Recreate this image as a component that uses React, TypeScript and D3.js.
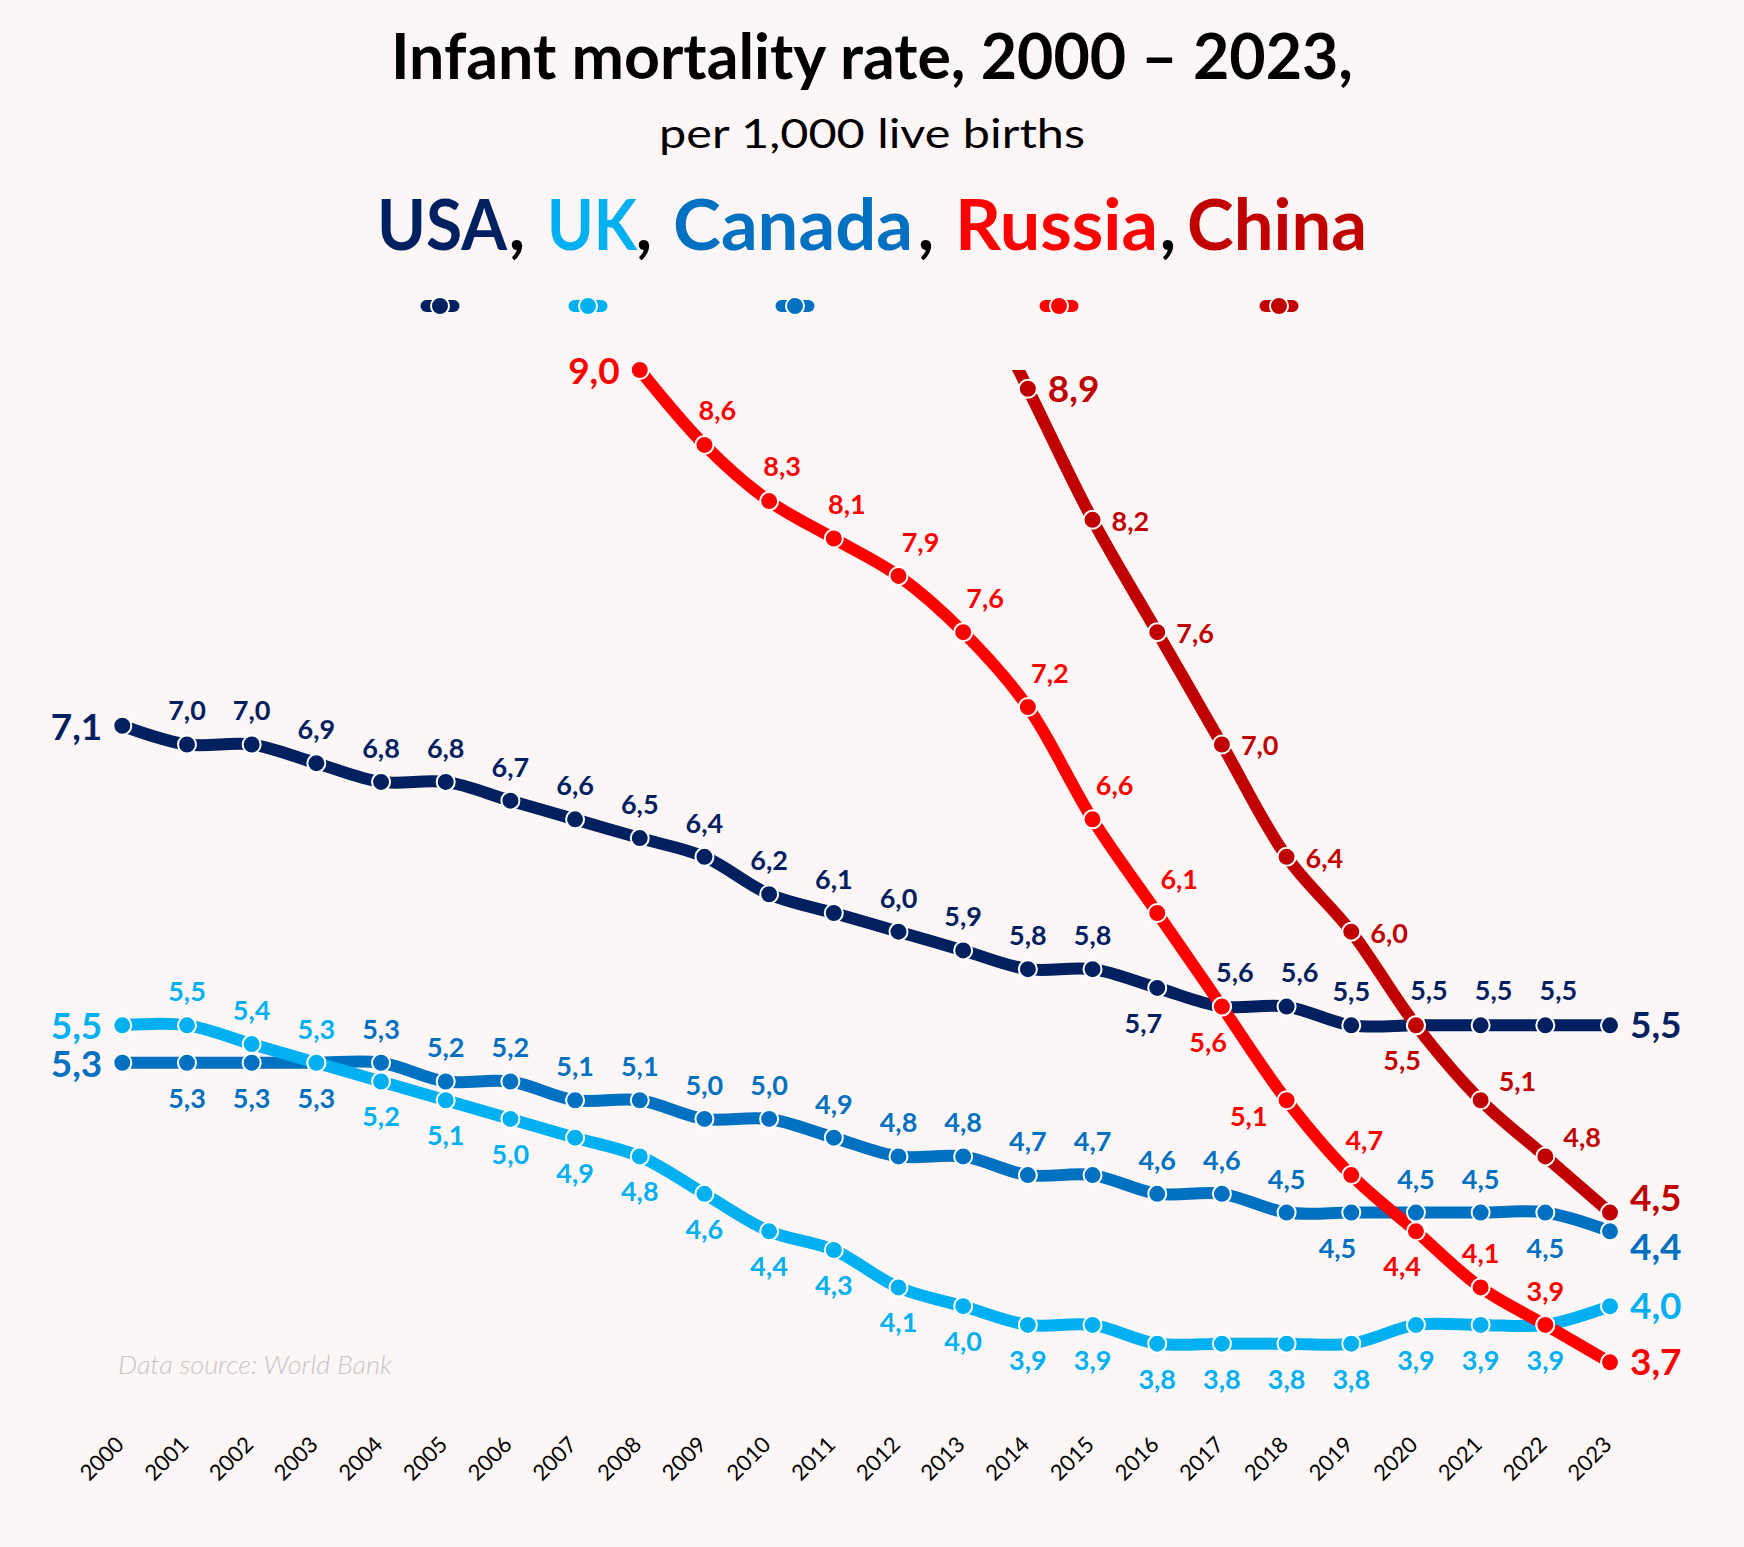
import React, { useEffect, useRef } from 'react';
import * as d3 from 'd3';

// ---- data (World Bank, infant mortality per 1,000 live births) ----
const years = [2000, 2001, 2002, 2003, 2004, 2005, 2006, 2007, 2008, 2009, 2010, 2011,
  2012, 2013, 2014, 2015, 2016, 2017, 2018, 2019, 2020, 2021, 2022, 2023];

const usa = [7.1, 7.0, 7.0, 6.9, 6.8, 6.8, 6.7, 6.6, 6.5, 6.4, 6.2, 6.1,
  6.0, 5.9, 5.8, 5.8, 5.7, 5.6, 5.6, 5.5, 5.5, 5.5, 5.5, 5.5];
const uk = [5.5, 5.5, 5.4, 5.3, 5.2, 5.1, 5.0, 4.9, 4.8, 4.6, 4.4, 4.3,
  4.1, 4.0, 3.9, 3.9, 3.8, 3.8, 3.8, 3.8, 3.9, 3.9, 3.9, 4.0];
const canada = [5.3, 5.3, 5.3, 5.3, 5.3, 5.2, 5.2, 5.1, 5.1, 5.0, 5.0, 4.9,
  4.8, 4.8, 4.7, 4.7, 4.6, 4.6, 4.5, 4.5, 4.5, 4.5, 4.5, 4.4];
const russia = [null, null, null, null, null, null, null, null, 9.0, 8.6, 8.3, 8.1,
  7.9, 7.6, 7.2, 6.6, 6.1, 5.6, 5.1, 4.7, 4.4, 4.1, 3.9, 3.7];
const china = [null, null, null, null, null, null, null, null, null, null, null, null,
  null, 9.6, 8.9, 8.2, 7.6, 7.0, 6.4, 6.0, 5.5, 5.1, 4.8, 4.5];

// label placement per point (null = no label)
const usaPos = ['L', 'T', 'T', 'T', 'T', 'T', 'T', 'T', 'T', 'T', 'T', 'T',
  'T', 'T', 'T', 'T', 'BL', 'TR', 'TR', 'T', 'TR', 'TR', 'TR', 'R'];
const ukPos = ['L', 'T', 'T', 'T', 'B', 'B', 'B', 'B', 'B', 'B', 'B', 'B',
  'B', 'B', 'B', 'B', 'B', 'B', 'B', 'B', 'B', 'B', 'B', 'R'];
const canadaPos = ['L', 'B', 'B', 'B', 'T', 'T', 'T', 'T', 'T', 'T', 'T', 'T',
  'T', 'T', 'T', 'T', 'T', 'T', 'T', 'BL', 'T', 'T', 'B', 'RB'];
const russiaPos = [null, null, null, null, null, null, null, null, 'L', 'TR', 'TR', 'TR',
  'TR2', 'TR2', 'TR2', 'TR2', 'TR2', 'BL', 'l', 'TR', 'BL', 'T', 'T', 'R'];
const chinaPos = [null, null, null, null, null, null, null, null, null, null, null, null,
  null, null, 'R', 'r', 'r', 'r', 'r', 'r', 'BL', 'rU', 'rU', 'RT'];

const countries = ['USA', 'UK', 'Canada', 'Russia', 'China'];
const colors = ['#002060', '#00b0f0', '#0070c0', '#ff0000', '#c00000'];

const series = [
  { name: 'USA', values: usa, pos: usaPos, color: colors[0] },
  { name: 'Canada', values: canada, pos: canadaPos, color: colors[2] },
  { name: 'UK', values: uk, pos: ukPos, color: colors[1] },
  { name: 'Russia', values: russia, pos: russiaPos, color: colors[3] },
  { name: 'China', values: china, pos: chinaPos, color: colors[4] },
];

const PLACE: Record<string, { anchor: string; dx: number; dy: number; big?: boolean }> = {
  T: { anchor: 'middle', dx: 0, dy: -24 },
  TR: { anchor: 'middle', dx: 13, dy: -25 },
  TR2: { anchor: 'middle', dx: 22, dy: -24 },
  B: { anchor: 'middle', dx: 0, dy: 45 },
  BL: { anchor: 'end', dx: 5, dy: 45 },
  l: { anchor: 'end', dx: -19, dy: 26 },
  r: { anchor: 'start', dx: 19, dy: 11 },
  rU: { anchor: 'start', dx: 18, dy: -9 },
  L: { anchor: 'end', dx: -20, dy: 14, big: true },
  R: { anchor: 'start', dx: 20, dy: 13, big: true },
  RB: { anchor: 'start', dx: 20, dy: 29, big: true },
  RT: { anchor: 'start', dx: 20, dy: -2, big: true },
};

const W = 1744;
const H = 1547;
const FONT = "Lato, 'Open Sans', sans-serif";

const App: React.FC = () => {
  const svgRef = useRef<SVGSVGElement>(null);

  useEffect(() => {
    if (!svgRef.current) return;
    const svg = d3.select(svgRef.current);
    svg.selectAll('*').remove();

    svg.append('rect').attr('width', W).attr('height', H).attr('fill', '#fdf6f6');

    const x = d3.scaleLinear().domain([2000, 2023]).range([122.3, 1610]);
    const y = d3.scaleLinear().domain([3.5, 9.0]).range([1399.8, 370]);

    // titles
    svg.append('text')
      .attr('x', 391).attr('y', 79)
      .attr('textLength', 962).attr('lengthAdjust', 'spacingAndGlyphs')
      .style('font-family', FONT).style('font-weight', 700).style('font-size', '63px')
      .attr('fill', '#000')
      .text('Infant mortality rate, 2000 – 2023,');

    svg.append('text')
      .attr('x', 659).attr('y', 148)
      .attr('textLength', 426).attr('lengthAdjust', 'spacingAndGlyphs')
      .style('font-family', FONT).style('font-weight', 400).style('font-size', '40px')
      .attr('fill', '#000')
      .text('per 1,000 live births');

    // coloured country names
    const nameBox = [[377, 130], [547, 90], [673, 240], [955, 203], [1187, 180]];
    const commaX = [517, 644, 926, 1168];
    countries.forEach((c, i) => {
      svg.append('text')
        .attr('x', nameBox[i][0]).attr('y', 250)
        .attr('textLength', nameBox[i][1]).attr('lengthAdjust', 'spacingAndGlyphs')
        .style('font-family', FONT).style('font-weight', 700).style('font-size', '70px')
        .attr('fill', colors[i])
        .text(c);
      if (i < commaX.length) {
        svg.append('text')
          .attr('x', commaX[i]).attr('y', 250).attr('text-anchor', 'middle')
          .style('font-family', FONT).style('font-weight', 700).style('font-size', '70px')
          .attr('fill', '#000')
          .text(',');
      }
    });

    // legend symbols
    const legendX = [440, 588, 795, 1059, 1279];
    countries.forEach((_, i) => {
      const g = svg.append('g').attr('transform', `translate(${legendX[i]},306)`);
      g.append('line')
        .attr('x1', -13.5).attr('x2', 13.5)
        .attr('stroke', colors[i]).attr('stroke-width', 12).attr('stroke-linecap', 'round');
      g.append('circle').attr('r', 9)
        .attr('fill', colors[i]).attr('stroke', '#fff').attr('stroke-width', 2);
    });

    // plot clip (lines are cut at the axis max)
    svg.append('defs').append('clipPath').attr('id', 'plotClip')
      .append('rect').attr('x', 0).attr('y', y(9.0)).attr('width', W).attr('height', H - y(9.0));

    const line = d3.line<number | null>()
      .defined(d => d !== null)
      .x((_, i) => x(years[i]))
      .y(d => y(d as number))
      .curve(d3.curveCatmullRom.alpha(0.5));

    const linesG = svg.append('g').attr('clip-path', 'url(#plotClip)');
    series.forEach(s => {
      linesG.append('path')
        .datum(s.values)
        .attr('fill', 'none')
        .attr('stroke', s.color)
        .attr('stroke-width', 12)
        .attr('stroke-linecap', 'round')
        .attr('stroke-linejoin', 'round')
        .attr('d', line);
    });

    // markers
    series.forEach(s => {
      s.values.forEach((v, i) => {
        if (v === null || s.pos[i] === null) return;
        svg.append('circle')
          .attr('cx', x(years[i])).attr('cy', y(v)).attr('r', 9)
          .attr('fill', s.color).attr('stroke', '#fff').attr('stroke-width', 2);
      });
    });

    // value labels
    series.forEach(s => {
      s.values.forEach((v, i) => {
        const p = s.pos[i];
        if (v === null || p === null) return;
        const pl = PLACE[p as string];
        svg.append('text')
          .attr('x', x(years[i]) + pl.dx)
          .attr('y', y(v) + pl.dy)
          .attr('text-anchor', pl.anchor)
          .style('font-family', FONT)
          .style('font-weight', 700)
          .style('font-size', pl.big ? '37px' : '27px')
          .attr('fill', s.color)
          .text(v.toFixed(1).replace('.', ','));
      });
    });

    // year labels
    years.forEach(yr => {
      svg.append('text')
        .attr('transform', `translate(${x(yr) + 3},1446) rotate(-45)`)
        .attr('text-anchor', 'end')
        .style('font-family', FONT).style('font-size', '22px')
        .attr('fill', '#000')
        .text(String(yr));
    });

    // source note
    svg.append('text')
      .attr('x', 118).attr('y', 1374)
      .attr('textLength', 274).attr('lengthAdjust', 'spacingAndGlyphs')
      .style('font-family', FONT).style('font-style', 'italic').style('font-weight', 300)
      .style('font-size', '25px')
      .attr('fill', '#c9c4c8')
      .text('Data source: World Bank');
  }, []);

  return (
    <div style={{ position: 'absolute', left: 0, top: 0 }}>
      <svg ref={svgRef} width={W} height={H} style={{ display: 'block' }} />
    </div>
  );
};

export default App;
